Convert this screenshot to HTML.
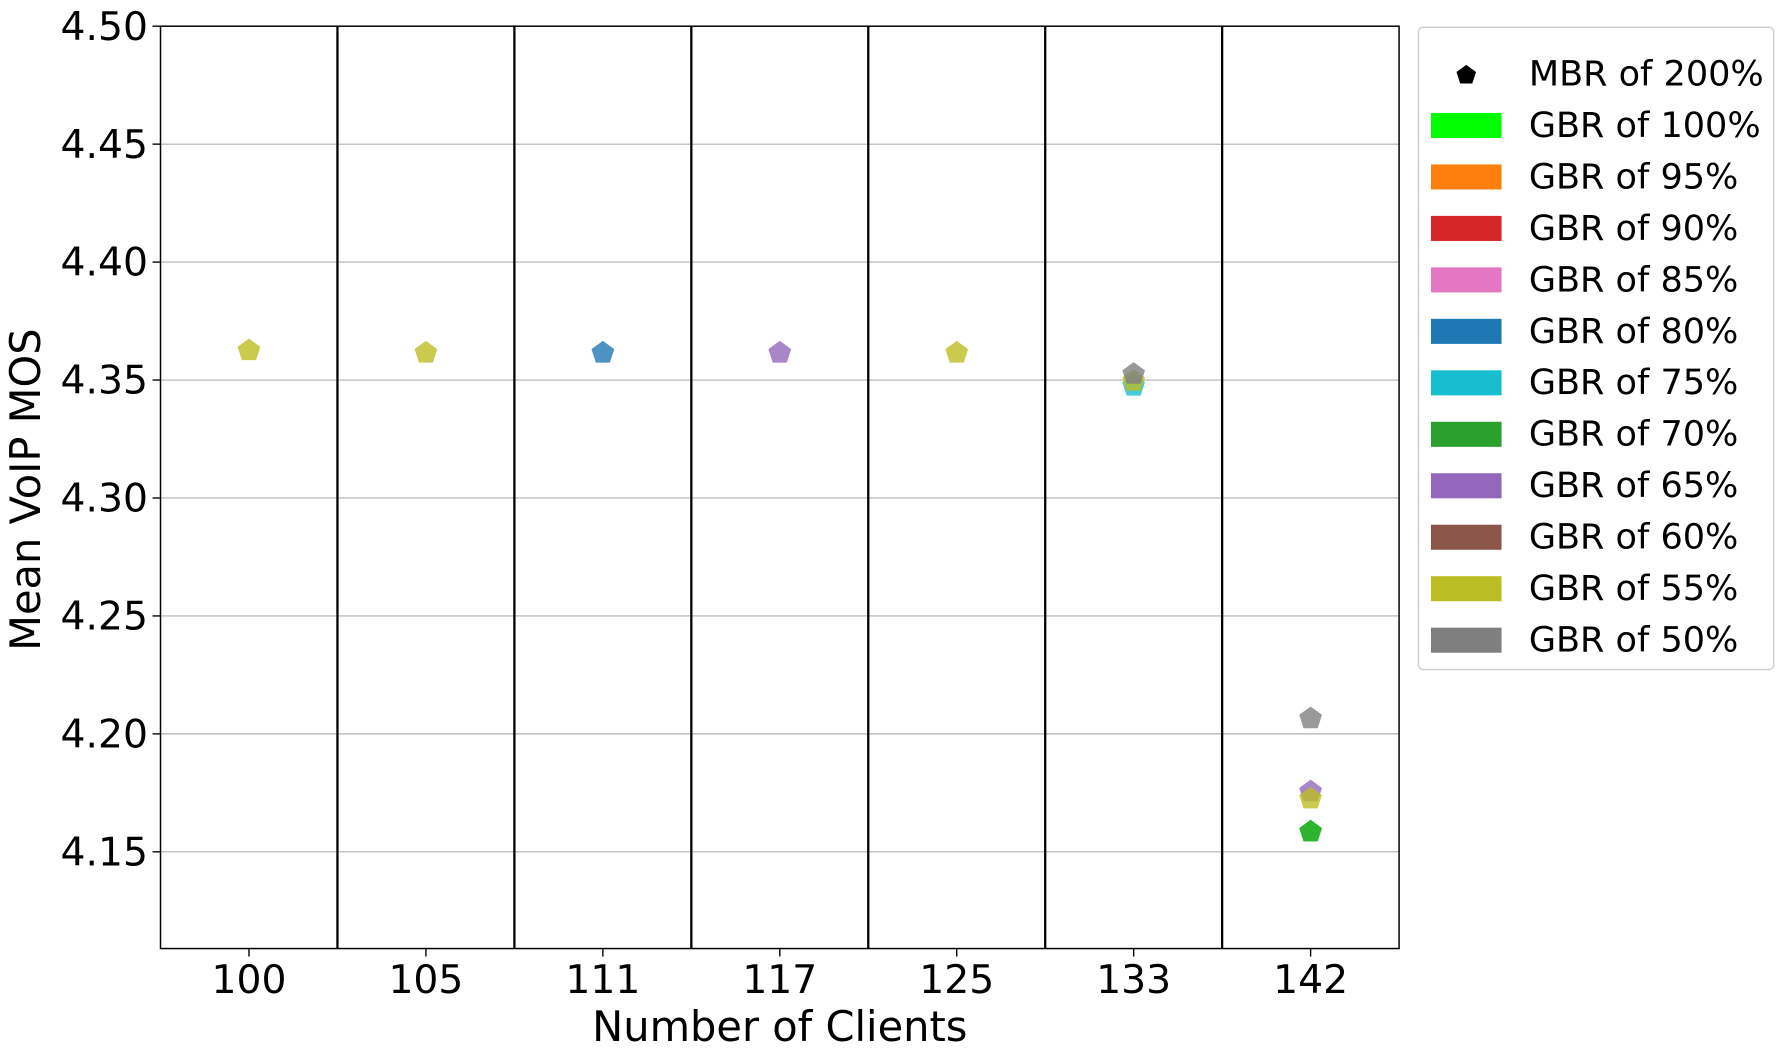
<!DOCTYPE html>
<html><head><meta charset="utf-8"><style>
html,body{margin:0;padding:0;background:#fff;}
svg{display:block;font-family:"DejaVu Sans","Liberation Sans",sans-serif;}
</style></head><body>
<svg id="chart" width="1785" height="1059" viewBox="0 0 1568 930" preserveAspectRatio="none" xmlns="http://www.w3.org/2000/svg">
<g id="grid"></g>
<g id="seps"></g>
<g id="marks"></g>
<rect x="141" y="23" width="1088" height="810" fill="none" stroke="#000" stroke-width="1.3"/>
<g id="yticks"></g>
<g id="xticks"></g>
<text x="685" y="914" font-size="36.5" text-anchor="middle">Number of Clients</text>
<text transform="translate(35,430) rotate(-90)" font-size="36.5" text-anchor="middle">Mean VoIP MOS</text>
<g id="legend"></g>
</svg>
<script>
const categories = ["100","105","111","117","125","133","142"];
const yTicks = [4.15,4.20,4.25,4.30,4.35,4.40,4.45,4.50];
const seriesNames = ["GBR of 100%","GBR of 95%","GBR of 90%","GBR of 85%","GBR of 80%","GBR of 75%","GBR of 70%","GBR of 65%","GBR of 60%","GBR of 55%","GBR of 50%"];
const seriesColors = ["#00ff00","#ff7f0e","#d62728","#e377c2","#1f77b4","#17becf","#2ca02c","#9467bd","#8c564b","#bcbd22","#7f7f7f"];
const gbr100 = [null,null,null,null,null,null,4.159];
const gbr95 = [null,null,null,null,null,null,null];
const gbr90 = [null,null,null,null,null,null,null];
const gbr85 = [null,null,null,null,null,null,null];
const gbr80 = [null,null,4.362,null,null,null,null];
const gbr75 = [null,null,null,null,null,4.348,null];
const gbr70 = [null,null,null,null,null,null,4.159];
const gbr65 = [null,null,null,4.362,null,null,4.176];
const gbr60 = [null,null,null,null,null,null,null];
const gbr55 = [4.363,4.362,null,null,4.362,4.350,4.173];
const gbr50 = [null,null,null,null,null,4.353,4.207];
const seriesValues = [gbr100,gbr95,gbr90,gbr85,gbr80,gbr75,gbr70,gbr65,gbr60,gbr55,gbr50];

const NS="http://www.w3.org/2000/svg";
const L=141,R=1229,T=23,B=833,YMIN=4.109,YMAX=4.50;
const bw=(R-L)/categories.length;
const xS=i=>L+bw*(i+0.5);
const yS=v=>B-(v-YMIN)/(YMAX-YMIN)*(B-T);
function mk(tag,attrs,parent){const e=document.createElementNS(NS,tag);for(const k in attrs)e.setAttribute(k,attrs[k]);parent.appendChild(e);return e;}
const grid=document.getElementById('grid'),yt=document.getElementById('yticks'),xt=document.getElementById('xticks'),seps=document.getElementById('seps'),marks=document.getElementById('marks'),lg=document.getElementById('legend');
yTicks.forEach(v=>{
  const y=yS(v);
  const g=mk('line',{x1:L,x2:R,y1:y,y2:y,stroke:'#b0b0b0','stroke-width':1},grid);
  
  
  mk('line',{x1:L-7,x2:L,y1:y,y2:y,stroke:'#000','stroke-width':1.2},yt);
  const t=mk('text',{x:L-11,y:y+12,'font-size':34.5,'text-anchor':'end'},yt);
  t.textContent=v.toFixed(2);
  
  
});
categories.forEach((c,i)=>{
  const x=xS(i);
  mk('line',{x1:x,x2:x,y1:B,y2:B+7,stroke:'#000','stroke-width':1.2},xt);
  const t=mk('text',{x:x,y:B+39,'font-size':34.5,'text-anchor':'middle'},xt);
  t.textContent=c;
  
  
  if(i>0){const s=mk('line',{x1:L+bw*i,x2:L+bw*i,y1:T,y2:B,stroke:'#000','stroke-width':2},seps);
    
    }
});
function pent(cx,cy,r){let p=[];for(let k=0;k<5;k++){const a=-Math.PI/2+k*2*Math.PI/5;p.push((cx+r*Math.cos(a)).toFixed(1)+','+(cy+r*Math.sin(a)).toFixed(1));}return p.join(' ');}
seriesValues.forEach((vals,si)=>{
  vals.forEach((v,i)=>{
    if(v==null)return;
    const p=mk('polygon',{points:pent(xS(i),yS(v)+1,10.5),fill:seriesColors[si],'fill-opacity':0.8},marks);
    
    
  });
});
const lb=mk('rect',{x:1246,y:24,width:312,height:564,rx:4,fill:'#fff',stroke:'#ccc','stroke-width':1.2},lg);


const ey=i=>65+i*45.2;
const m=mk('polygon',{points:pent(1288,ey(0)+1,9),fill:'#000'},lg);


const mt=mk('text',{x:1343,y:ey(0)+10,'font-size':30.8},lg);
mt.textContent='MBR of 200%';


seriesNames.forEach((n,si)=>{
  const y=ey(si+1);
  const r=mk('rect',{x:1257,y:y-11,width:62,height:22,fill:seriesColors[si]},lg);
  
  
  const t=mk('text',{x:1343,y:y+10,'font-size':30.8},lg);
  t.textContent=n;
  
  
});
</script>
</body></html>
